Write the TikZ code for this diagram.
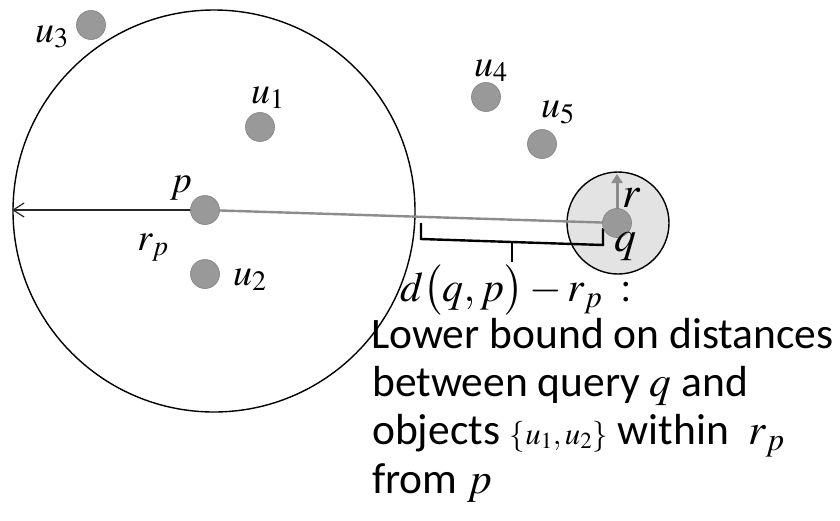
\documentclass[tikz,border=0pt]{standalone}
\usepackage{mathptmx}
\usepackage{fontspec}
\setmainfont{Carlito}
\usetikzlibrary{arrows.meta}
\begin{document}
\begin{tikzpicture}[x=1pt,y=-1pt,
  dot/.style={circle,fill=black!40,draw=black!50,line width=0.6pt,minimum size=29pt,inner sep=0pt},
  lbl/.style={inner sep=0pt,font=\fontsize{38}{44}\selectfont},
  body/.style={anchor=base west,inner sep=0pt,font=\fontsize{43.5}{50}\selectfont}]
\useasboundingbox[fill=white] (0,0) rectangle (840,520);
% regions
\node[circle,draw,line width=1.4pt,minimum size=402pt,inner sep=0pt] (big) at (214,211) {};
\node[circle,draw,line width=1.4pt,fill=black!11,minimum size=102pt,inner sep=0pt] (small) at (618,223) {};
% centres
\coordinate (cp) at (205,210);
\coordinate (cq) at (617,223);
\coordinate (rpend) at (12,210);
\coordinate (rtop) at (617,174);
% connectors
\draw[line width=2.4pt,black!45] (cp) -- (cq);
\draw[line width=2.4pt,black!85,-{Straight Barb[length=11pt,width=14pt,line width=1.2pt]}] (cp) -- (rpend);
\draw[line width=3pt,black!45,-{Triangle[length=9pt,width=11pt]}] (cq) -- (rtop);
% bracket
\coordinate (b1) at (421,223);
\coordinate (b2) at (421,239);
\coordinate (b3) at (603,245);
\coordinate (b4) at (603,228);
\coordinate (t1) at (512,242);
\coordinate (t2) at (512,262);
\draw[line width=2.4pt,line join=miter] (b1) -- (b2) -- (b3) -- (b4);
\draw[line width=2.4pt] (t1) -- (t2);
% points
\node[dot] (p) at (cp) {};
\node[dot] (q) at (cq) {};
\node[dot] (u1) at (260,127) {};
\node[dot] (u2) at (205,274) {};
\node[dot] (u3) at (91,25) {};
\node[dot] (u4) at (486,97) {};
\node[dot] (u5) at (542,144) {};
% labels
\node[lbl,anchor=base] (lu3) at (52,42) {$u_3$};
\node[lbl,anchor=base] (lu1) at (268,103) {$u_1$};
\node[lbl,anchor=base] (lp) at (181,192) {$p$};
\node[lbl,anchor=base] (lrp) at (153,250) {$r_p$};
\node[lbl,anchor=base] (lu2) at (250,285) {$u_2$};
\node[lbl,anchor=base] (lu4) at (491,76) {$u_4$};
\node[lbl,anchor=base] (lu5) at (558,117) {$u_5$};
\node[inner sep=0pt,anchor=base,font=\fontsize{44}{50}\selectfont] (lr) at (632,207) {$r$};
\node[inner sep=0pt,anchor=base,font=\fontsize{44}{50}\selectfont] (lq) at (625,251) {$q$};
% explanation
\node[inner sep=0pt,anchor=base west,font=\fontsize{42}{48}\selectfont] (dist) at (400,301) {$d\bigl(q,p\bigr)-r_p\;:$};
\node[body] (l1) at (371,348) {Lower bound on distances};
\node[body] (l2) at (372,396) {between query $q$ and};
\node[body] (l3) at (372,444) {objects {\fontsize{31}{36}\selectfont$\{u_1,u_2\}$} within \ $r_p$};
\node[body] (l4) at (372,493) {from $p$};
\end{tikzpicture}
\end{document}
